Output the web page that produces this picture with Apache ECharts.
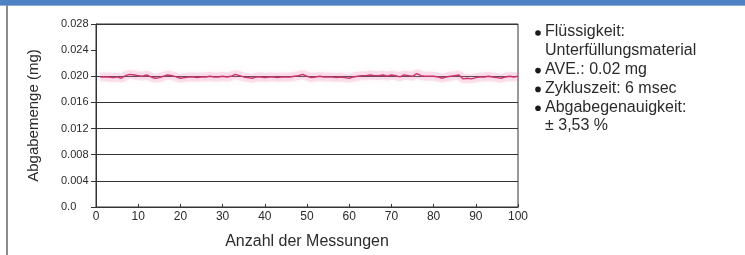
<!DOCTYPE html>
<html>
<head>
<meta charset="utf-8">
<script src="https://cdn.jsdelivr.net/npm/echarts@6/dist/echarts.min.js"></script>
<style>
  html, body { margin: 0; padding: 0; background: #fff; }
  #chart { width: 745px; height: 255px; }
</style>
</head>
<body>
<div id="chart"></div>
<script>
// measurement number 1..100
var messungen = [];
for (var n = 1; n <= 100; n++) messungen.push(n);

// dispensed amount (mg)
var abgabemenge = [
  0.0199, 0.0199, 0.0199, 0.0198, 0.0199, 0.0197, 0.0201, 0.0203, 0.0202, 0.0201,
  0.0200, 0.0202, 0.0199, 0.0197, 0.0198, 0.0200, 0.0202, 0.0201, 0.0199, 0.0197,
  0.0198, 0.0199, 0.0199, 0.0198, 0.0199, 0.0199, 0.0200, 0.0199, 0.0199, 0.0200,
  0.0199, 0.0200, 0.0203, 0.0201, 0.0199, 0.0198, 0.0197, 0.0199, 0.0199, 0.0198,
  0.0199, 0.0199, 0.0198, 0.0199, 0.0199, 0.0199, 0.0200, 0.0201, 0.0203, 0.0200,
  0.0198, 0.0199, 0.0200, 0.0199, 0.0199, 0.0199, 0.0198, 0.0199, 0.0198, 0.0197,
  0.0199, 0.0200, 0.0201, 0.0201, 0.0202, 0.0201, 0.0201, 0.0202, 0.0200, 0.0202,
  0.0201, 0.0199, 0.0202, 0.0201, 0.0200, 0.0204, 0.0201, 0.0200, 0.0200, 0.0200,
  0.0199, 0.0197, 0.0199, 0.0200, 0.0201, 0.0202, 0.0196, 0.0197, 0.0196, 0.0198,
  0.0199, 0.0199, 0.0200, 0.0199, 0.0198, 0.0197, 0.0199, 0.0200, 0.0199, 0.0200
];

var yTickLabels = ['0.0', '0.004', '0.008', '0.012', '0.016', '0.020', '0.024', '0.028'];
var xTickLabels = ['0', '10', '20', '30', '40', '50', '60', '70', '80', '90', '100'];

var infoLines = [
  { bullet: true, text: 'Flüssigkeit:' },
  { bullet: false, text: 'Unterfüllungsmaterial' },
  { bullet: true, text: 'AVE.: 0.02 mg' },
  { bullet: true, text: 'Zykluszeit: 6 msec' },
  { bullet: true, text: 'Abgabegenauigkeit:' },
  { bullet: false, text: '± 3,53 %' }
];

var font = '"Liberation Sans", Arial, sans-serif';
var ink = '#2b2b2b';

var chart = echarts.init(document.getElementById('chart'));

var graphics = [
  // blue banner (title cut off at top)
  { type: 'rect', left: 0, top: 0, shape: { width: 745, height: 5 }, style: { fill: '#4e81c3' }, silent: true },
  { type: 'rect', left: 0, top: 5, shape: { width: 745, height: 1 }, style: { fill: '#8eaedb' }, silent: true },
  // left frame line
  { type: 'rect', left: 6, top: 5, shape: { width: 2, height: 250 }, style: { fill: '#8c8c8c' }, silent: true }
];

var lineY = 24;
infoLines.forEach(function (l) {
  if (l.bullet) {
    graphics.push({
      type: 'circle', shape: { cx: 538, cy: lineY + 9, r: 2.8 },
      style: { fill: '#1a1a1a' }, silent: true
    });
  }
  graphics.push({
    type: 'text', left: 545, top: lineY,
    style: { text: l.text, font: '16px ' + font, fill: ink }, silent: true
  });
  lineY += 18.8;
});

var points = messungen.map(function (m, i) { return [m, abgabemenge[i]]; });

chart.setOption({
  animation: false,
  grid: {
    left: 96, right: 227, top: 24, bottom: 47,
    show: true, borderColor: '#333', borderWidth: 1, backgroundColor: 'transparent'
  },
  xAxis: {
    type: 'value', min: 0, max: 100, interval: 10,
    name: 'Anzahl der Messungen', nameLocation: 'middle', nameGap: 27,
    nameTextStyle: { fontFamily: font, fontSize: 16, color: ink },
    axisLine: { lineStyle: { color: '#333', width: 1 } },
    axisTick: { inside: true, length: 3, lineStyle: { color: '#333' } },
    axisLabel: {
      fontFamily: font, fontSize: 12, color: ink, margin: 4,
      formatter: function (v) { return xTickLabels[Math.round(v / 10)]; }
    },
    splitLine: { show: false }
  },
  yAxis: {
    type: 'value', min: 0, max: 0.028, interval: 0.004,
    name: 'Abgabemenge (mg)', nameLocation: 'middle', nameGap: 55, nameRotate: 90,
    nameTextStyle: { fontFamily: font, fontSize: 15, color: ink },
    axisLine: { show: true, lineStyle: { color: '#333', width: 1 } },
    axisTick: { show: true, inside: false, length: 5, lineStyle: { color: '#333' } },
    axisLabel: {
      fontFamily: font, fontSize: 11, color: ink, margin: 35, align: 'left',
      formatter: function (v) { return yTickLabels[Math.round(v / 0.004)]; }
    },
    splitLine: {
      show: true,
      lineStyle: { width: 1, color: ['#333', '#333', '#333', '#333', '#333', '#333', 'transparent', '#333'] }
    }
  },
  series: [
    {
      // soft pink scatter band around the trace
      type: 'line', data: points, showSymbol: false, silent: true,
      lineStyle: { color: 'rgba(240, 140, 185, 0.22)', width: 9 },
      z: 1
    },
    {
      type: 'line', data: points, showSymbol: false,
      lineStyle: {
        color: '#c8346a', width: 1.4,
        shadowColor: 'rgba(240, 120, 170, 0.7)', shadowBlur: 6
      },
      z: 3
    }
  ],
  graphic: graphics
});
</script>
</body>
</html>
